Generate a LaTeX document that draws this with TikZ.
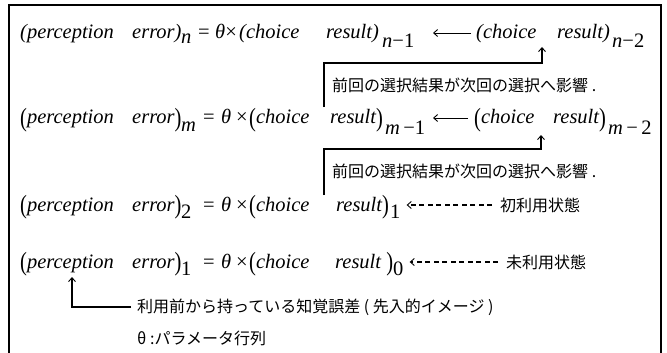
\documentclass[tikz,border=0pt]{standalone}
\usepackage{fontspec}
\usepackage{graphicx}
\setmainfont{Liberation Serif}
\newfontfamily\jpfont{Noto Sans CJK JP}
\usetikzlibrary{arrows.meta}
\newcommand\BL{{\upshape\raisebox{-2.5pt}{\scalebox{1}[1.28]{(}}}}
\newcommand\BR{{\upshape\raisebox{-2.5pt}{\scalebox{1}[1.28]{)}}}}
\tikzset{
  eq/.style={anchor=base west, inner sep=0pt, font=\fontsize{20.5}{24}\selectfont\itshape},
  jptext/.style={anchor=west, inner sep=0pt, font=\jpfont\fontsize{16}{18}\selectfont},
  tipV/.tip={Straight Barb[length=4pt,width=7pt,line width=0.9pt]},
  conn/.style={line width=1.1pt, -tipV},
  larr/.style={line width=0.9pt, -tipV},
  darr/.style={line width=1.1pt, dash pattern=on 5pt off 3.5pt, -tipV},
  frame/.style={line width=2pt}
}
\begin{document}
\begin{tikzpicture}[x=1pt,y=-1pt]
\useasboundingbox (0,0) rectangle (667,353);
\draw[frame] (8.5,353) -- (8.5,5.5) -- (661,5.5) -- (661,353);

% ---- row 1
\node[eq] (r1a) at (20,39) {(perception};
\node[eq] (r1b) at (132,39) {error)};
\node[eq] (r1bs) at (181,44) {n};
\node[eq] (r1eq) at (198,39) {\upshape =};
\node[eq] (r1th) at (215,39) {θ\upshape ×};
\node[eq] (r1c) at (239,39) {(choice};
\node[eq] (r1d) at (326,39) {result)};
\node[eq] (r1ds) at (382,48) {n\upshape −1};
\node[eq] (r1e) at (476,39) {(choice};
\node[eq] (r1f) at (557,39) {result)};
\node[eq] (r1fs) at (612,48) {n\upshape −2};
\coordinate (a1s) at (471,33);
\coordinate (a1e) at (433,33);
\draw[larr] (a1s) -- (a1e);

% connector 1
\coordinate (c1b) at (324,107);
\coordinate (c1t) at (542,47);
\draw[conn] (c1b) |- (c1t |- 0,63) -- (c1t);
\node[jptext] (j1) at (332,85) {前回の選択結果が次回の選択へ影響 .};

% ---- row 2
\node[eq] (r2a) at (20,124) {\BL perception};
\node[eq] (r2b) at (132,124) {error\BR};
\node[eq] (r2bs) at (181,131) {m};
\node[eq] (r2eq) at (203,124) {\upshape =};
\node[eq] (r2th) at (221,124) {θ};
\node[eq] (r2x) at (236,124) {\upshape ×};
\node[eq] (r2c) at (249,124) {\BL choice};
\node[eq] (r2d) at (330,124) {result\BR};
\node[eq] (r2ds) at (385,135) {m\upshape\,−1};
\node[eq] (r2e) at (474,124) {\BL choice};
\node[eq] (r2f) at (553,124) {result\BR};
\node[eq] (r2fs) at (608,135) {m\upshape\,−\,2};
\coordinate (a2s) at (468,118);
\coordinate (a2e) at (433,118);
\draw[larr] (a2s) -- (a2e);

% connector 2
\coordinate (c2b) at (324,195);
\coordinate (c2t) at (541,135);
\draw[conn] (c2b) |- (c2t |- 0,149) -- (c2t);
\node[jptext] (j2) at (332,171) {前回の選択結果が次回の選択へ影響 .};

% ---- row 3
\node[eq] (r3a) at (20,211) {\BL perception};
\node[eq] (r3b) at (132,211) {error\BR};
\node[eq] (r3bs) at (181,218) {\upshape 2};
\node[eq] (r3eq) at (203,211) {\upshape =};
\node[eq] (r3th) at (221,211) {θ};
\node[eq] (r3x) at (236,211) {\upshape ×};
\node[eq] (r3c) at (249,211) {\BL choice};
\node[eq] (r3d) at (336,211) {result\BR};
\node[eq] (r3ds) at (390,218) {\upshape 1};
\node[jptext] (j3) at (500,205) {初利用状態};
\draw[darr] ([xshift=-8pt]j3.west) -- ([xshift=6pt]r3ds.east |- j3.west);

% ---- row 4
\node[eq] (r4a) at (20,268) {\BL perception};
\node[eq] (r4b) at (132,268) {error\BR};
\node[eq] (r4bs) at (181,275) {\upshape 1};
\node[eq] (r4eq) at (203,268) {\upshape =};
\node[eq] (r4th) at (221,268) {θ};
\node[eq] (r4x) at (236,268) {\upshape ×};
\node[eq] (r4c) at (249,268) {\BL choice};
\node[eq] (r4d) at (335,268) {result \BR};
\node[eq] (r4ds) at (393,275) {\upshape 0};
\node[jptext] (j4) at (506,262) {未利用状態};
\draw[darr] ([xshift=-8pt]j4.west) -- ([xshift=6pt]r4ds.east |- j4.west);

% ---- bottom note
\node[jptext] (j5) at (137,307) {利用前から持っている知覚誤差 ( 先入的イメージ )};
\node[jptext] (j6) at (137,338) {θ :パラメータ行列};
\coordinate (c5t) at (72,277);
\draw[conn] ([xshift=-6pt]j5.west) -| (c5t);
\end{tikzpicture}
\end{document}
